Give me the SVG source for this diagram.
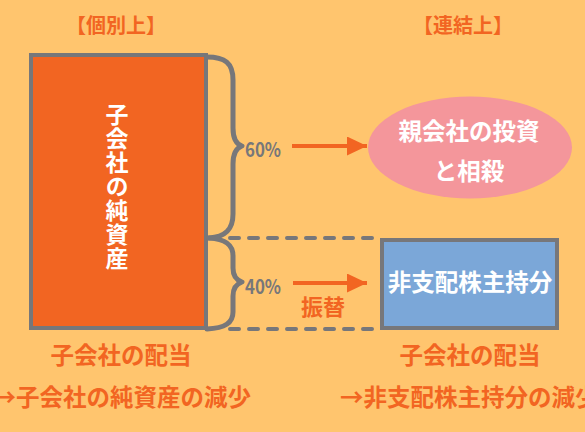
<svg xmlns="http://www.w3.org/2000/svg" width="585" height="432" viewBox="0 0 585 432">
<defs>
<style>
.t{font-family:"Noto Sans CJK JP","Noto Sans CJK SC",sans-serif;font-weight:bold}
.or{fill:#F26522}
.wh{fill:#ffffff}
.gy{fill:#77777a}
.brace{fill:none;stroke:#77777a;stroke-width:5;stroke-linecap:round;stroke-linejoin:round}
.dash{fill:none;stroke:#77777a;stroke-width:4;stroke-dasharray:9 10;stroke-linecap:round}
.arr{stroke:#F26522;stroke-width:4;fill:none}
</style>
<marker id="ah" markerWidth="20" markerHeight="19" refX="20" refY="9.5" orient="auto" markerUnits="userSpaceOnUse">
<path d="M0,0 L20,9.5 L0,19 Z" fill="#F26522"/>
</marker>
</defs>
<rect width="585" height="432" fill="#FFC56E"/>
<text class="t or" x="116" y="33" font-size="20" text-anchor="middle">【個別上】</text>
<text class="t or" x="463" y="33" font-size="20" text-anchor="middle">【連結上】</text>
<g id="subsidiary">
<rect x="31" y="55" width="175" height="273" fill="#F26522" stroke="#77777a" stroke-width="4"/>
<text class="t wh" x="117" y="103" font-size="23" letter-spacing="1" writing-mode="vertical-rl">子会社の純資産</text>
</g>
<g id="parent">
<ellipse cx="470" cy="147.5" rx="102" ry="51" fill="#F4969B"/>
<text class="t wh" x="469" y="140" font-size="23.5" text-anchor="middle">親会社の投資</text>
<text class="t wh" x="469" y="180" font-size="23.5" text-anchor="middle">と相殺</text>
</g>
<g id="nci">
<rect x="382" y="240" width="175" height="88" fill="#7BA7D8" stroke="#77777a" stroke-width="4"/>
<text class="t wh" x="470" y="291" font-size="23.5" text-anchor="middle">非支配株主持分</text>
</g>
<g id="connectors">
<path class="brace" d="M207,57 C225,57 233,63 233,80 L233,128 C233,139 236,144 242,146 C236,148 233,153 233,164 L233,214 C233,230 225,237 209,238"/>
<path class="brace" d="M209,238 C225,239 233,244 233,256 L233,268 C233,276 236,280 242,282 C236,284 233,288 233,296 L233,312 C233,323 225,328 207,329"/>
<line class="dash" x1="230" y1="238" x2="377" y2="238"/>
<line class="dash" x1="230" y1="329" x2="377" y2="329"/>
<line class="arr" x1="292" y1="146" x2="367" y2="146" marker-end="url(#ah)"/>
<line class="arr" x1="293" y1="283" x2="367" y2="283" marker-end="url(#ah)"/>
</g>
<text class="t gy" x="245" y="157" font-size="20" textLength="36" lengthAdjust="spacingAndGlyphs">60%</text>
<text class="t gy" x="245" y="294" font-size="20" textLength="36" lengthAdjust="spacingAndGlyphs">40%</text>
<text class="t or" x="323" y="315" font-size="22" text-anchor="middle">振替</text>
<text class="t or" x="121" y="364" font-size="23.5" text-anchor="middle">子会社の配当</text>
<text class="t or" x="251" y="406" font-size="23.5" text-anchor="end">→子会社の純資産の減少</text>
<text class="t or" x="470" y="364" font-size="23.5" text-anchor="middle">子会社の配当</text>
<text class="t or" x="340" y="406" font-size="23.5">→非支配株主持分の減少</text>
</svg>
